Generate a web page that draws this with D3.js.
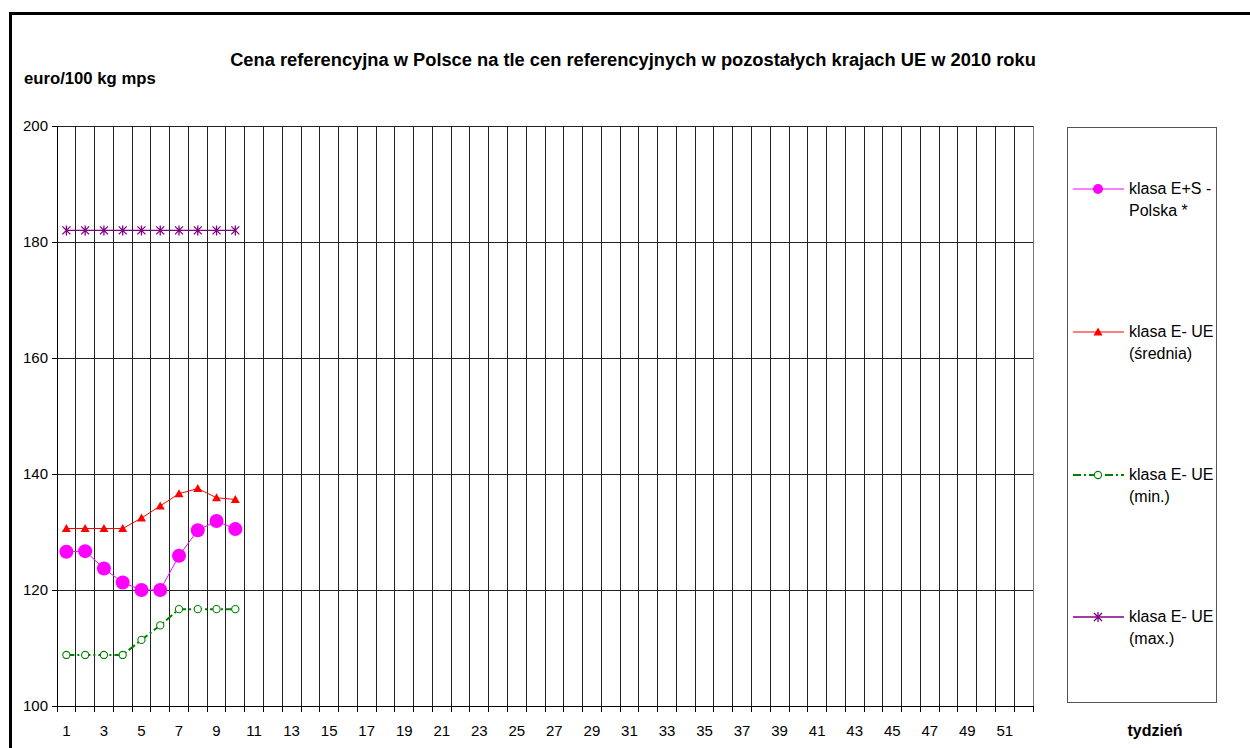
<!DOCTYPE html>
<html>
<head>
<meta charset="utf-8">
<script src="https://cdn.jsdelivr.net/npm/d3@7"></script>
<style>
  body { margin: 0; background: #fff; }
  text { font-family: "Liberation Sans", Arial, sans-serif; }
</style>
</head>
<body>
<svg id="chart" width="1250" height="748"></svg>
<script>
// categories (weeks) and tick labels
var weeks = d3.range(1, 53);
var xTickLabels = [1, 3, 5, 7, 9, 11, 13, 15, 17, 19, 21, 23, 25, 27, 29, 31, 33, 35, 37, 39, 41, 43, 45, 47, 49, 51];
var yTickValues = [100, 120, 140, 160, 180, 200];

// series values (weeks 1-10)
var polska = [126.6, 126.7, 123.7, 121.3, 120.0, 120.0, 125.9, 130.3, 131.9, 130.5];
var ueSrednia = [130.6, 130.6, 130.6, 130.6, 132.4, 134.5, 136.6, 137.5, 135.9, 135.6];
var ueMin = [108.8, 108.8, 108.8, 108.8, 111.4, 113.9, 116.7, 116.7, 116.7, 116.7];
var ueMax = [182.0, 182.0, 182.0, 182.0, 182.0, 182.0, 182.0, 182.0, 182.0, 182.0];

var svg = d3.select("#chart");
var plot = {left: 57, right: 1033, top: 126, bottom: 706};

var x = d3.scaleBand().domain(weeks).range([plot.left, plot.right]);
var y = d3.scaleLinear().domain([100, 200]).range([plot.bottom, plot.top]);

// outer frame
svg.append("rect")
  .attr("x", 10.5).attr("y", 13.5)
  .attr("width", 1260).attr("height", 760)
  .attr("fill", "none").attr("stroke", "#000").attr("stroke-width", 3);

// title
svg.append("text")
  .attr("x", 633).attr("y", 66)
  .attr("text-anchor", "middle")
  .style("font-size", "18.3px").style("font-weight", "bold")
  .text("Cena referencyjna w Polsce na tle cen referencyjnych w pozostałych krajach UE w 2010 roku");

svg.append("text")
  .attr("x", 24).attr("y", 84)
  .style("font-size", "16.7px").style("font-weight", "bold")
  .text("euro/100 kg mps");

svg.append("text")
  .attr("x", 1155).attr("y", 736)
  .attr("text-anchor", "middle")
  .style("font-size", "16px").style("font-weight", "bold")
  .text("tydzień");

var g = svg.append("g");

// vertical grid lines at category boundaries
var bounds = weeks.map(function(w) { return x(w); }).concat([plot.right]);
g.selectAll(".vgrid")
  .data(bounds.slice(1))
  .enter().append("line")
    .attr("class", "vgrid")
    .attr("x1", function(d) { return d; }).attr("x2", function(d) { return d; })
    .attr("y1", plot.top).attr("y2", plot.bottom)
    .attr("stroke", function(d, i) { return i === bounds.length - 2 ? "#777" : "#222"; })
    .attr("stroke-width", 1)
    .attr("shape-rendering", "crispEdges");

// horizontal grid lines
g.selectAll(".hgrid")
  .data(yTickValues.slice(1))
  .enter().append("line")
    .attr("class", "hgrid")
    .attr("x1", plot.left).attr("x2", plot.right)
    .attr("y1", function(d) { return y(d); }).attr("y2", function(d) { return y(d); })
    .attr("stroke", "#222")
    .attr("shape-rendering", "crispEdges");

// y axis
var yAxis = d3.axisLeft(y).tickValues(yTickValues).tickSize(5).tickPadding(4);
var ya = g.append("g")
  .attr("transform", "translate(" + plot.left + ",0)")
  .call(yAxis);
ya.select(".domain").attr("stroke", "#000");
ya.selectAll("line").attr("stroke", "#000");
ya.selectAll("text")
  .style("font-size", "15px")
  .style("font-family", "Liberation Sans, Arial, sans-serif")
  .attr("fill", "#000");

// x axis: baseline, boundary ticks, labels
g.append("line")
  .attr("x1", plot.left).attr("x2", plot.right)
  .attr("y1", plot.bottom).attr("y2", plot.bottom)
  .attr("stroke", "#000").attr("shape-rendering", "crispEdges");
g.selectAll(".xtick")
  .data(bounds)
  .enter().append("line")
    .attr("x1", function(d) { return d; }).attr("x2", function(d) { return d; })
    .attr("y1", plot.bottom).attr("y2", plot.bottom + 6)
    .attr("stroke", "#000").attr("shape-rendering", "crispEdges");
g.selectAll(".xlabel")
  .data(xTickLabels)
  .enter().append("text")
    .attr("x", function(d) { return x(d) + x.bandwidth() / 2; })
    .attr("y", 736)
    .attr("text-anchor", "middle")
    .style("font-size", "15px")
    .text(function(d) { return d; });

function cx(i) { return x(weeks[i]) + x.bandwidth() / 2; }

var line = d3.line()
  .x(function(d, i) { return cx(i); })
  .y(function(d) { return y(d); });

// markers
function circleMarker(sel, r, fill, stroke, sw) {
  sel.append("circle").attr("r", r).attr("fill", fill).attr("stroke", stroke).attr("stroke-width", sw);
}
function triMarker(sel, color) {
  sel.append("path").attr("d", "M0,-4.5L4.5,3.5L-4.5,3.5Z").attr("fill", color);
}
function starMarker(sel, color) {
  sel.append("path")
    .attr("d", "M-4,-4L4,4M-4,4L4,-4M0,-5L0,5")
    .attr("stroke", color).attr("stroke-width", 1.3).attr("fill", "none");
}

var series = [
  {values: ueMax, color: "#800080", width: 1.3, dash: null, marker: function(s) { starMarker(s, "#800080"); }},
  {values: ueMin, color: "#008000", width: 2, dash: "8,3,2,3", marker: function(s) { circleMarker(s, 3.6, "#fff", "#008000", 1.1); }},
  {values: ueSrednia, color: "#ff0000", width: 1, dash: null, marker: function(s) { triMarker(s, "#ff0000"); }},
  {values: polska, color: "#ff00ff", width: 1, dash: null, marker: function(s) { circleMarker(s, 7, "#ff00ff", "none", 0); }}
];

series.forEach(function(s) {
  g.append("path")
    .datum(s.values)
    .attr("d", line)
    .attr("fill", "none")
    .attr("stroke", s.color)
    .attr("stroke-width", s.width)
    .attr("stroke-dasharray", s.dash);
  g.selectAll(null)
    .data(s.values)
    .enter().append("g")
      .attr("transform", function(d, i) { return "translate(" + cx(i) + "," + y(d) + ")"; })
      .each(function() { s.marker(d3.select(this)); });
});

// legend
var legend = svg.append("g");
legend.append("clipPath").attr("id", "legclip")
  .append("rect").attr("x", 1067).attr("y", 127).attr("width", 149).attr("height", 575);
legend.append("rect")
  .attr("x", 1067.5).attr("y", 127.5).attr("width", 149).attr("height", 575)
  .attr("fill", "none").attr("stroke", "#555").attr("stroke-width", 1);

var legendItems = [
  {lines: ["klasa E+S -", "Polska *"], y: 189, s: series[3]},
  {lines: ["klasa E- UE", "(średnia)"], y: 332, s: series[2]},
  {lines: ["klasa E- UE", "(min.)"], y: 475, s: series[1]},
  {lines: ["klasa E- UE", "(max.)"], y: 617, s: series[0]}
];
legendItems.forEach(function(it) {
  var lg = legend.append("g").attr("clip-path", "url(#legclip)");
  lg.append("line")
    .attr("x1", 1073).attr("x2", 1124)
    .attr("y1", it.y).attr("y2", it.y)
    .attr("stroke", it.s.color)
    .attr("stroke-width", it.s.width)
    .attr("stroke-dasharray", it.s.dash);
  var m = lg.append("g").attr("transform", "translate(1098," + it.y + ")");
  if (it.s === series[3]) circleMarker(m, 5, "#ff00ff", "none", 0);
  else it.s.marker(m);
  lg.append("text")
    .attr("x", 1129).attr("y", it.y + 5)
    .style("font-size", "16px")
    .text(it.lines[0]);
  lg.append("text")
    .attr("x", 1129).attr("y", it.y + 27)
    .style("font-size", "16px")
    .text(it.lines[1]);
});
</script>
</body>
</html>
